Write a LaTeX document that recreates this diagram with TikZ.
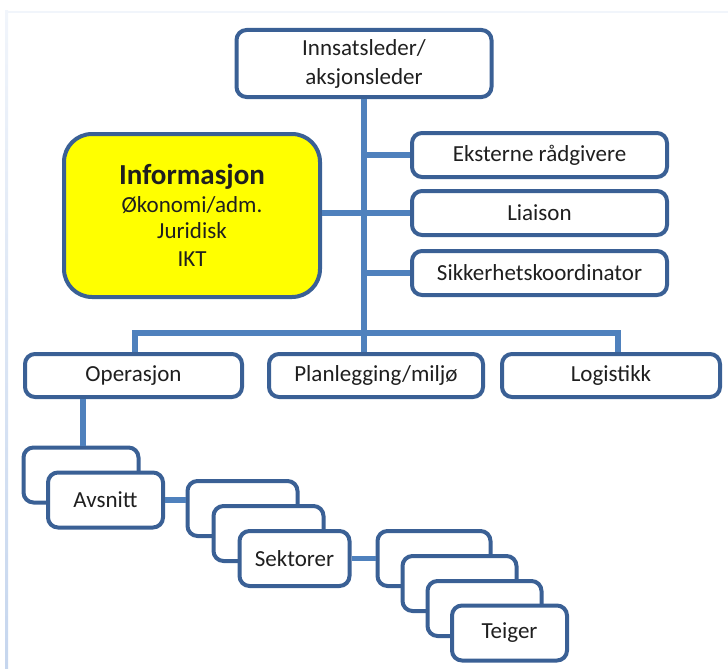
\documentclass[tikz,border=0pt]{standalone}
\usepackage{fontspec}
\setmainfont{Carlito}
\definecolor{edgeblue}{HTML}{3A6095}
\definecolor{linkblue}{HTML}{4F81BD}
\definecolor{infoyellow}{HTML}{FFFF00}
\definecolor{framefaint}{HTML}{F1F5FB}
\definecolor{framelow}{HTML}{C6D6EE}
\begin{document}
\begin{tikzpicture}[x=1pt,y=-1pt,
  link/.style={draw=linkblue, line width=5.5pt},
  orgbox/.style={draw=edgeblue, line width=4pt, fill=white, rounded corners=10pt,
    inner sep=0pt, align=center, text=black!88,
    font=\fontsize{23}{29}\selectfont},
  wh/.style 2 args={minimum width=#1pt-4pt, minimum height=#2pt-4pt},
  infobox/.style={orgbox, fill=infoyellow, rounded corners=28pt}]
\useasboundingbox (0,0) rectangle (728,669);

% faint page frame
\fill[framefaint] (5,11) rectangle (728,13.5);
\shade[top color=framefaint, bottom color=framelow] (5,11) rectangle (8,669);

% top of the hierarchy
\node[orgbox, wh={259}{71}] (top) at (364,63.5) {Innsatsleder/\\aksjonsleder};

% staff functions
\node[infobox, wh={260}{167}] (info) at (192,215.5)
  {{\fontsize{29}{31}\selectfont\bfseries Informasjon}\\[-1pt]
   Økonomi/adm.\\[-3pt] Juridisk\\[-1pt] IKT};
\node[orgbox, wh={259}{48}] (ext) at (539.5,155) {Eksterne rådgivere};
\node[orgbox, wh={259}{48}] (lia) at (539.5,213) {Liaison};
\node[orgbox, wh={259}{48}] (sik) at (539.5,273) {Sikkerhetskoordinator};

% sections
\node[orgbox, wh={221}{47}] (ops) at (133.5,375.5) {Operasjon};
\node[orgbox, wh={218}{47}] (plan) at (376,375.5) {Planlegging/miljø};
\node[orgbox, wh={222}{47}] (logi) at (611,375.5) {Logistikk};

% Avsnitt stack
\node[orgbox, wh={119}{59}] (avsA) at (81,475) {};
\node[orgbox, wh={119}{59}] (avs) at (105.5,500) {Avsnitt};

% Sektorer stack
\node[orgbox, wh={114}{59}] (sekA) at (242.5,508.5) {};
\node[orgbox, wh={114}{59}] (sekB) at (268.5,533.5) {};
\node[orgbox, wh={114}{59}] (sek) at (294.5,558.5) {Sektorer};

% Teiger stack
\node[orgbox, wh={117}{59}] (teiA) at (434,558.5) {};
\node[orgbox, wh={118}{59}] (teiB) at (459.5,583.5) {};
\node[orgbox, wh={118}{59}] (teiC) at (484.5,608.5) {};
\node[orgbox, wh={119}{59}] (tei) at (509.5,633) {Teiger};

% connectors
\coordinate (barL) at (135,333);
\coordinate (barR) at (618,333);
\coordinate (opsdrop) at (83,0);

\draw[link] (top.south) -- (plan.north -| top.south);
\draw[link] (ext.west) -- (ext.west -| top.south);
\draw[link] (sik.west) -- (sik.west -| top.south);
\draw[link] (info.east |- lia.west) -- (lia.west);
\draw[link] (ops.north -| barL) -- (barL) -- (barR) -- (logi.north -| barR);
\draw[link] (ops.south -| opsdrop) -- (avsA.north -| opsdrop);
\draw[link] (avs.east) -- (avs.east -| sekA.west);
\draw[link] (sek.east) -- (sek.east -| teiA.west);
\end{tikzpicture}
\end{document}
